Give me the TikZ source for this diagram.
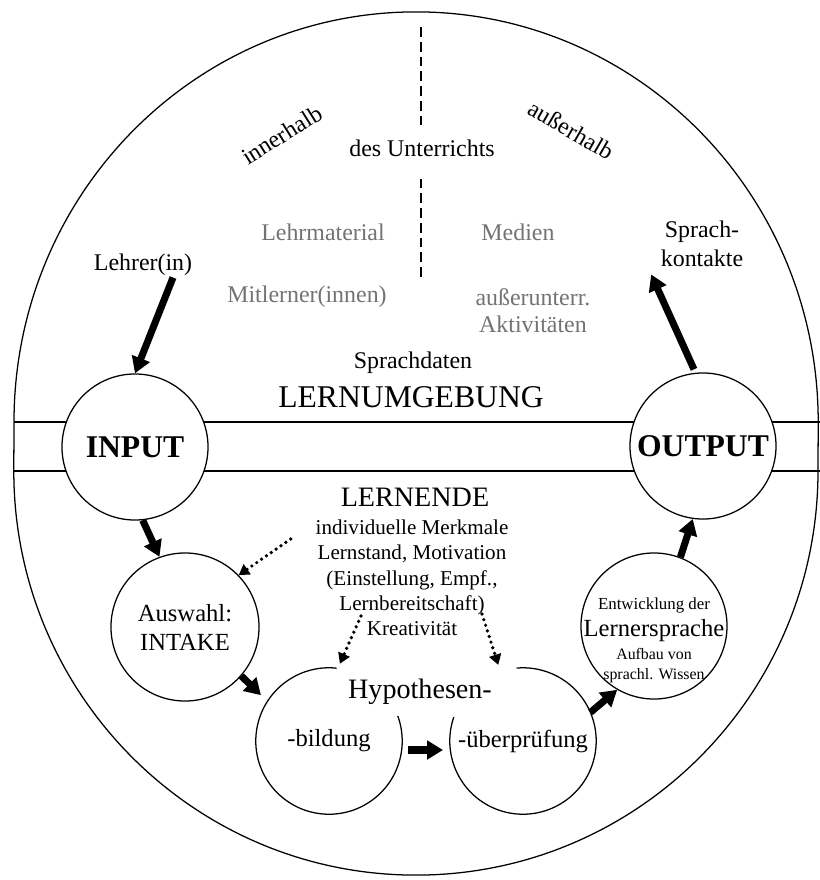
\documentclass[tikz,border=0pt]{standalone}
\usepackage{fontspec}
\setmainfont{Liberation Serif}
\usetikzlibrary{arrows.meta}

\begin{document}
\begin{tikzpicture}[x=0.025cm, y=-0.025cm,
  rim/.style={line width=0.9pt},
  ring/.style={circle, draw, line width=0.9pt, fill=white,
               minimum size=3.65cm, inner sep=0pt, align=center},
  txt/.style={font=\fontsize{17}{20}\selectfont, align=center, inner sep=1pt},
  grey/.style={txt, text=black!55},
  fat/.style={-{Triangle[length=4mm,width=4.6mm]}, line width=5pt},
  dots/.style={-{Triangle[length=2.6mm,width=3mm]}, line width=2.6pt,
               line cap=round, dash pattern=on 0pt off 4.2pt},
  divider/.style={line width=0.8pt, dash pattern=on 7pt off 3.5pt}]

  \useasboundingbox (0,0) rectangle (820,880);

  % outer egg and the band through it
  \draw[rim] (14,422) arc[start angle=180, end angle=0, x radius=10.05cm, y radius=10.25cm]
    -- (818,471) arc[start angle=0, end angle=-180, x radius=10.05cm, y radius=10.1cm] -- cycle;
  \draw[rim] (14,422) -- (820,422) (14,471) -- (820,471);

  % upper half: Lernumgebung
  \node[txt, rotate=32] (inner) at (282,135) {innerhalb};
  \node[txt, rotate=-30] (ausser) at (571,130) {außerhalb};
  \node[txt] (unterr) at (422,148) {des Unterrichts};
  \coordinate (dtop) at (421,27);
  \coordinate (dbot) at (421,277);
  \draw[divider] (dtop) -- ++(0,100) (dbot) -- ++(0,-100);

  \node[grey] (lehrmat) at (323,232) {Lehrmaterial};
  \node[grey] (medien) at (518,232) {Medien};
  \node[grey] (mitl) at (307,297) {Mitlerner(innen)};
  \node[grey, font=\fontsize{17}{19}\selectfont] (akt) at (533,311) {außerunterr.\\Aktivitäten};

  \node[txt] (lehrer) at (143,265) {Lehrer(in)};
  \node[txt, font=\fontsize{17}{20.5}\selectfont] (kontakte) at (702,244) {Sprach-\\kontakte};
  \node[txt] (daten) at (413,363) {Sprachdaten};
  \node[font=\fontsize{22.5}{26}\selectfont] (umgebung) at (411,397) {LERNUMGEBUNG};

  \node[ring, font=\bfseries\fontsize{22.5}{26}\selectfont] (input) at (135,447) {INPUT};
  \node[ring, font=\bfseries\fontsize{22.5}{26}\selectfont] (output) at (703,446) {OUTPUT};

  % lower half: Lernende
  \node[font=\fontsize{20}{24}\selectfont] (lernende) at (415,497) {LERNENDE};
  \node[font=\fontsize{15}{18}\selectfont, align=center] (merkmale) at (412,578)
    {individuelle Merkmale\\Lernstand, Motivation\\(Einstellung, Empf.,\\Lernbereitschaft)\\Kreativität};

  \node[ring, minimum size=3.7cm, font=\fontsize{17.5}{20.6}\selectfont] (intake) at (185,627)
    {Auswahl:\\INTAKE};

  \node[font=\fontsize{20}{24}\selectfont] (hyp) at (420,692) {Hypothesen-};
  \node[txt, font=\fontsize{17.5}{20}\selectfont] (hb) at (329,741) {-bildung};
  \node[txt, font=\fontsize{17.5}{20}\selectfont] (hu) at (523,741) {-überprüfung};
  \draw[rim] ([shift={(84:1.83cm)}]hb.center) arc[start angle=84, end angle=380, radius=1.83cm];
  \draw[rim] ([shift={(161:1.83cm)}]hu.center) arc[start angle=161, end angle=455, radius=1.83cm];

  \node[ring] (lernsp) at (654,626) {};
  \node[align=center, font=\fontsize{12}{14}\selectfont, inner sep=0pt] (lstext) at (654,640)
    {Entwicklung der\\[3.8pt]{\fontsize{17.5}{20}\selectfont Lernersprache}\\[2.4pt]%
     {\fontsize{11.3}{14}\selectfont Aufbau von}\\{\fontsize{11.3}{14}\selectfont sprachl. Wissen}};

  % thick arrows
  \draw[fat] ([xshift=0.75cm]lehrer.south) -- (input.north);
  \draw[fat] ([shift={(-9,-3)}]output.north) -- ([shift={(-8,6)}]kontakte.south west);
  \draw[fat] (input.-84) -- (intake.110);
  \draw[fat] (intake.-41) -- ([shift={(146:2.05cm)}]hb.center);
  \draw[fat] ([shift={(79,9)}]hb.center) -- ([shift={(-80,9)}]hu.center);
  \draw[fat] ([shift={(23:1.83cm)}]hu.center) -- (lernsp.-120);
  \draw[fat] (lernsp.69) -- (output.-98);

  % dotted influences of the learner
  \draw[dots] ([shift={(-20,24)}]merkmale.north west) -- (intake.44);
  \draw[dots] ([shift={(-51,-25)}]merkmale.south) -- ([shift={(82:1.95cm)}]hb.center);
  \draw[dots] ([shift={(70,-27)}]merkmale.south) -- ([shift={(108:2.0cm)}]hu.center);
\end{tikzpicture}
\end{document}
